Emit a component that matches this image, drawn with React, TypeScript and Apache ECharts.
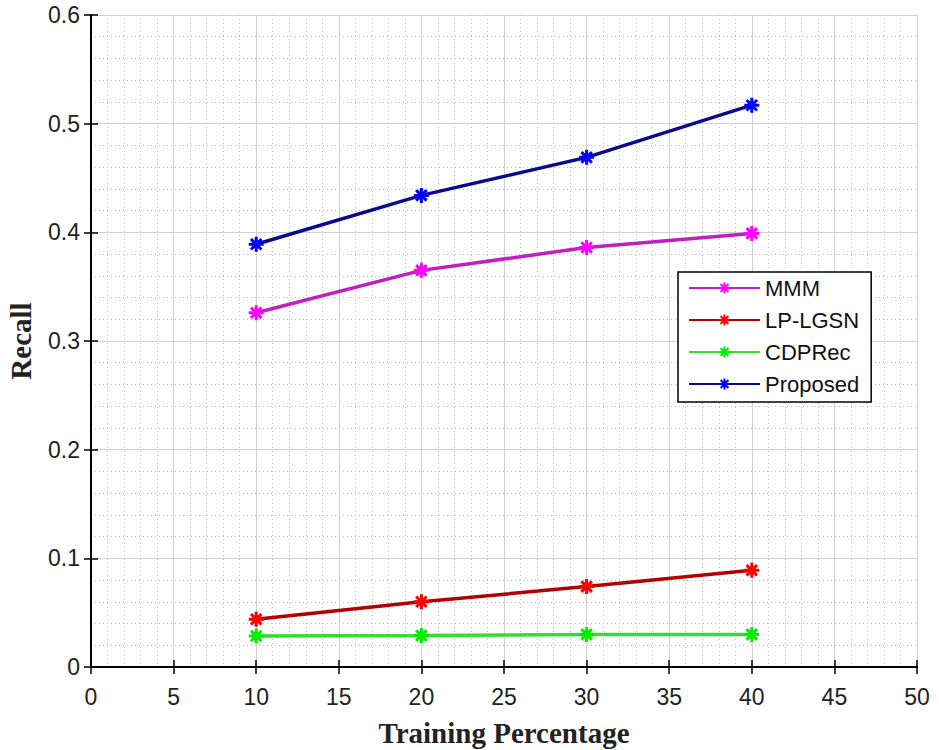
import React, { useEffect, useRef } from "react";
import * as echarts from "echarts";

const xValues = [10, 20, 30, 40];
const mmm = [0.326, 0.365, 0.386, 0.399];
const lpLgsn = [0.044, 0.06, 0.074, 0.089];
const cdpRec = [0.0285, 0.029, 0.030, 0.030];
const proposed = [0.389, 0.434, 0.469, 0.517];

const seriesNames = ["MMM", "LP-LGSN", "CDPRec", "Proposed"];
const lineColors = ["#c21fc2", "#b30000", "#33dd33", "#0a0a8c"];
const markerColors = ["#ff00ff", "#ff0000", "#00ee00", "#0000ff"];
const seriesData = [mmm, lpLgsn, cdpRec, proposed];

const STAR = "path://M5,0L5,10M0,5L10,5M1.5,1.5L8.5,8.5M8.5,1.5L1.5,8.5";

export default function App() {
  const ref = useRef<HTMLDivElement>(null);
  useEffect(() => {
    if (!ref.current) return;
    const chart = echarts.init(ref.current, null, { renderer: "svg" });
    const gridCommon = {
      splitLine: { show: true, lineStyle: { color: "#d0d0d0", width: 1 } },
      minorSplitLine: { show: true, lineStyle: { color: "#bdbdbd", width: 1, type: [1, 3] } },
    };
    const tickFont = "Arial, 'Liberation Sans', sans-serif";
    chart.setOption({
      animation: false,
      backgroundColor: "#ffffff",
      grid: {
        left: 91,
        top: 15,
        width: 826,
        height: 652,
        containLabel: false,
        outerBoundsMode: "none",
      },
      legend: {
        orient: "vertical",
        left: 678,
        top: 272,
        data: seriesNames,
        itemWidth: 71,
        itemHeight: 14,
        itemGap: 10,
        padding: [5, 12, 7, 10],
        borderColor: "#000",
        borderWidth: 1.5,
        backgroundColor: "#fff",
        textStyle: { fontFamily: tickFont, fontSize: 22, color: "#111" },
      },
      xAxis: [
        {
          type: "value",
          min: 0,
          max: 50,
          interval: 5,
          minorTick: { show: false, splitNumber: 5 },
          ...gridCommon,
          axisLine: { show: true, lineStyle: { color: "#000", width: 2 } },
          axisTick: { show: true, inside: true, length: 7, lineStyle: { color: "#000", width: 1.5 } },
          axisLabel: { fontSize: 23, color: "#222", margin: 18, fontFamily: tickFont },
          name: "Training Percentage",
          nameLocation: "middle",
          nameGap: 51,
          nameTextStyle: { fontFamily: "'Liberation Serif', 'Times New Roman', serif", fontWeight: "bold", fontSize: 29, color: "#222" },
        },
        {
          type: "value",
          position: "top",
          min: 0,
          max: 50,
          interval: 5,
          splitLine: { show: false },
          axisLine: { show: true, lineStyle: { color: "#000", width: 2 } },
          axisTick: { show: true, inside: true, length: 7, lineStyle: { color: "#000", width: 1.5 } },
          axisLabel: { show: false },
        },
      ],
      yAxis: [
        {
          type: "value",
          min: 0,
          max: 0.6,
          interval: 0.1,
          minorTick: { show: false, splitNumber: 5 },
          ...gridCommon,
          axisLine: { show: true, lineStyle: { color: "#000", width: 2 } },
          axisTick: { show: true, inside: true, length: 7, lineStyle: { color: "#000", width: 1.5 } },
          axisLabel: {
            fontSize: 23,
            color: "#222",
            margin: 11,
            fontFamily: tickFont,
            formatter: (v: number) => (v === 0 ? "0" : v.toFixed(1)),
          },
          name: "Recall",
          nameLocation: "middle",
          nameGap: 56,
          nameTextStyle: { fontFamily: "'Liberation Serif', 'Times New Roman', serif", fontWeight: "bold", fontSize: 29, color: "#222" },
        },
        {
          type: "value",
          position: "right",
          min: 0,
          max: 0.6,
          interval: 0.1,
          splitLine: { show: false },
          axisLine: { show: true, lineStyle: { color: "#000", width: 2 } },
          axisTick: { show: true, inside: true, length: 7, lineStyle: { color: "#000", width: 1.5 } },
          axisLabel: { show: false },
        },
      ],
      series: seriesNames.map((name, i) => ({
        name,
        type: "line",
        xAxisIndex: 0,
        yAxisIndex: 0,
        data: xValues.map((x, j) => [x, seriesData[i][j]]),
        symbol: STAR,
        symbolSize: 15,
        showAllSymbol: true,
        lineStyle: { color: lineColors[i], width: 3.5 },
        itemStyle: { color: markerColors[i], borderColor: markerColors[i], borderWidth: 3 },
        emphasis: { disabled: true },
      })),
    });
    return () => chart.dispose();
  }, []);
  return (
    <div
      ref={ref}
      style={{ position: "fixed", left: 0, top: 0, width: 939, height: 750 }}
    />
  );
}
